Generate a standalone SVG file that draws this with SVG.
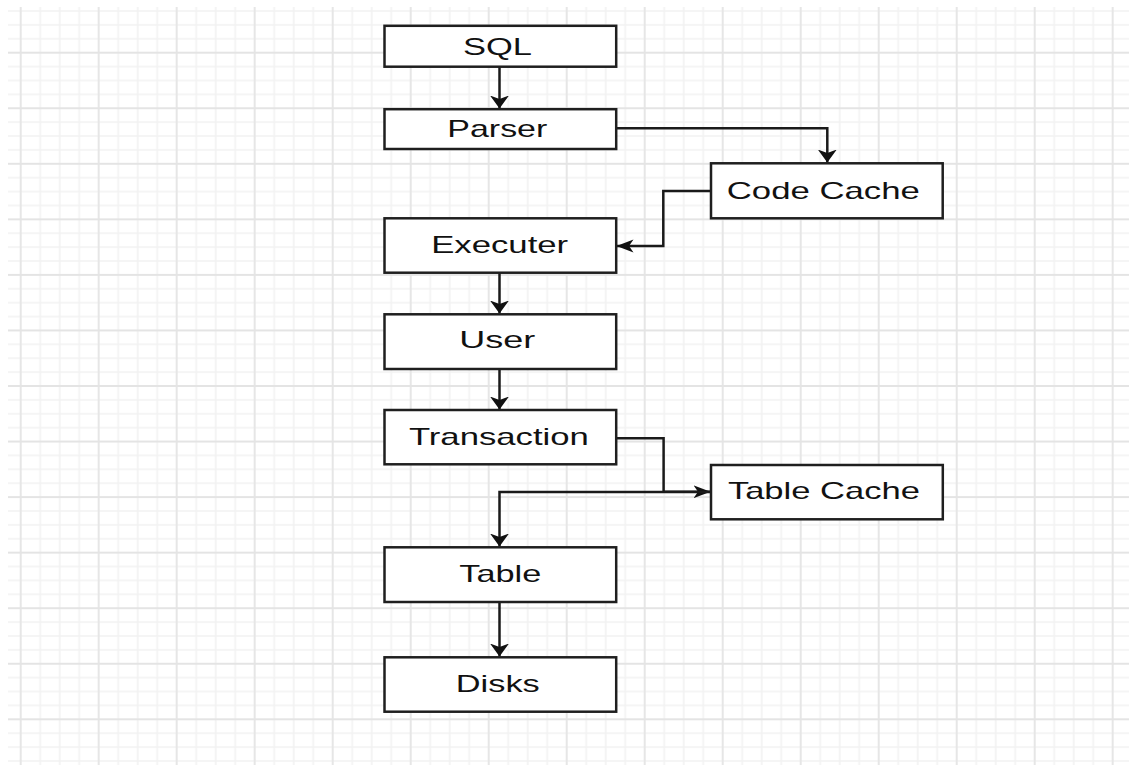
<svg xmlns="http://www.w3.org/2000/svg" width="1129" height="765" viewBox="0 0 1129 765">
  <style>
    .node rect { fill: #ffffff; stroke: #1f1f1f; stroke-width: 2.5; }
    .node text { font-family: "Liberation Sans", Arial, sans-serif; font-size: 24px; fill: #111111; text-anchor: middle; }
    .edge { fill: none; stroke: #1a1a1a; stroke-width: 2.5; }
    .minor { stroke: #f2f2f2; stroke-width: 1.6; }
    .major { stroke: #e4e4e4; stroke-width: 1.8; }
  </style>
  <defs>
    <!-- background grid: one major cell with four subdivisions each way -->
    <pattern id="grid" patternUnits="userSpaceOnUse" x="20.7" y="52.7" width="78" height="55.55">
      <line class="minor" x1="19.5" y1="0" x2="19.5" y2="55.55"/>
      <line class="minor" x1="39" y1="0" x2="39" y2="55.55"/>
      <line class="minor" x1="58.5" y1="0" x2="58.5" y2="55.55"/>
      <line class="minor" x1="0" y1="13.89" x2="78" y2="13.89"/>
      <line class="minor" x1="0" y1="27.78" x2="78" y2="27.78"/>
      <line class="minor" x1="0" y1="41.66" x2="78" y2="41.66"/>
      <line class="major" x1="0" y1="0" x2="0" y2="55.55"/>
      <line class="major" x1="78" y1="0" x2="78" y2="55.55"/>
      <line class="major" x1="0" y1="0" x2="78" y2="0"/>
      <line class="major" x1="0" y1="55.55" x2="78" y2="55.55"/>
    </pattern>
    <!-- arrowheads: vertical runs get a short, wide head; horizontal runs a long, narrow one -->
    <marker id="arrow-v" markerUnits="userSpaceOnUse" orient="auto" markerWidth="14" markerHeight="20" refX="13" refY="9.5">
      <path d="M13,9.5 L0,0 L3.5,9.5 L0,19 Z" fill="#111111"/>
    </marker>
    <marker id="arrow-h" markerUnits="userSpaceOnUse" orient="auto" markerWidth="18" markerHeight="14" refX="17" refY="6.5">
      <path d="M17,6.5 L0,0 L4.5,6.5 L0,13 Z" fill="#111111"/>
    </marker>
  </defs>

  <rect x="0" y="0" width="1129" height="765" fill="#ffffff"/>
  <rect x="8" y="7" width="1121" height="758" fill="url(#grid)"/>

  <g id="connectors">
    <path class="edge" d="M499.5,67 L499.5,108.5" marker-end="url(#arrow-v)"/>
    <path class="edge" d="M616,128.3 L827.3,128.3 L827.3,162.5" marker-end="url(#arrow-v)"/>
    <path class="edge" d="M711,191 L663.3,191 L663.3,246 L616.5,246" marker-end="url(#arrow-h)"/>
    <path class="edge" d="M499.5,273 L499.5,313.5" marker-end="url(#arrow-v)"/>
    <path class="edge" d="M499.5,369 L499.5,409.5" marker-end="url(#arrow-v)"/>
    <path class="edge" d="M616,438.3 L663.6,438.3 L663.6,491.7 L710.5,491.7" marker-end="url(#arrow-h)"/>
    <path class="edge" d="M711,492 L499.5,492 L499.5,546.5" marker-end="url(#arrow-v)"/>
    <path class="edge" d="M499.5,602 L499.5,656.5" marker-end="url(#arrow-v)"/>
  </g>

  <g id="node-sql" class="node">
    <rect x="384.5" y="25.8" width="231.7" height="40.9"/>
    <text x="497.5" y="55" textLength="69" lengthAdjust="spacingAndGlyphs">SQL</text>
  </g>
  <g id="node-parser" class="node">
    <rect x="384.5" y="109.2" width="231.7" height="39.8"/>
    <text x="497.3" y="136.7" textLength="100" lengthAdjust="spacingAndGlyphs">Parser</text>
  </g>
  <g id="node-code-cache" class="node">
    <rect x="711" y="163.3" width="231.7" height="55"/>
    <text x="823.3" y="199.3" textLength="193" lengthAdjust="spacingAndGlyphs">Code Cache</text>
  </g>
  <g id="node-executer" class="node">
    <rect x="384.5" y="218.3" width="231.7" height="54.4"/>
    <text x="499.7" y="253.3" textLength="137" lengthAdjust="spacingAndGlyphs">Executer</text>
  </g>
  <g id="node-user" class="node">
    <rect x="384.5" y="314.3" width="231.7" height="54.7"/>
    <text x="497.3" y="348.3" textLength="76" lengthAdjust="spacingAndGlyphs">User</text>
  </g>
  <g id="node-transaction" class="node">
    <rect x="384.5" y="410" width="231.7" height="54.3"/>
    <text x="498.9" y="445" textLength="180" lengthAdjust="spacingAndGlyphs">Transaction</text>
  </g>
  <g id="node-table-cache" class="node">
    <rect x="711" y="465" width="231.8" height="54.3"/>
    <text x="823.9" y="499.3" textLength="192" lengthAdjust="spacingAndGlyphs">Table Cache</text>
  </g>
  <g id="node-table" class="node">
    <rect x="384.5" y="547.3" width="231.7" height="54.7"/>
    <text x="500.3" y="581.7" textLength="82" lengthAdjust="spacingAndGlyphs">Table</text>
  </g>
  <g id="node-disks" class="node">
    <rect x="384.5" y="657.3" width="231.7" height="54.4"/>
    <text x="497.8" y="691.7" textLength="84" lengthAdjust="spacingAndGlyphs">Disks</text>
  </g>
</svg>
